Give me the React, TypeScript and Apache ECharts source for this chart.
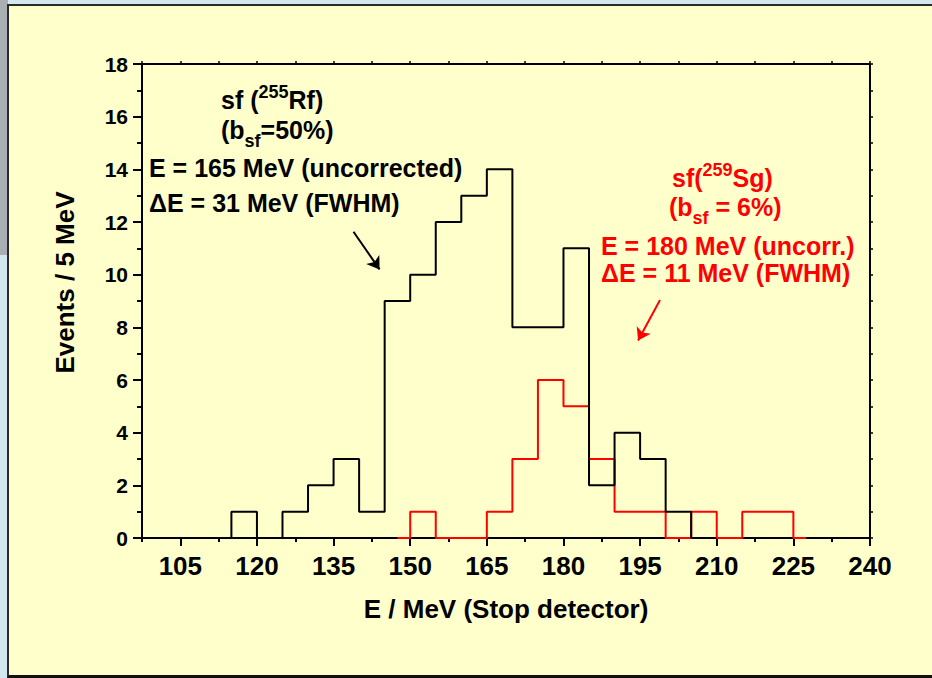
import React, { useEffect, useRef } from 'react';
import * as echarts from 'echarts';

// Histogram bin centres (MeV) and counts per 5 MeV bin
const rfBinCenters = [112.5, 117.5, 122.5, 127.5, 132.5, 137.5, 142.5, 147.5, 152.5, 157.5, 162.5, 167.5, 172.5, 177.5, 182.5, 187.5, 192.5, 197.5, 202.5, 207.5];
const rfCounts = [0, 1, 0, 1, 2, 3, 1, 9, 10, 12, 13, 14, 8, 8, 11, 2, 4, 3, 1, 0];

const sgBinCenters = [147.5, 152.5, 157.5, 162.5, 167.5, 172.5, 177.5, 182.5, 187.5, 192.5, 197.5, 202.5, 207.5, 212.5, 217.5, 222.5, 227.5];
const sgCounts = [0, 1, 0, 0, 1, 3, 6, 5, 3, 1, 1, 0, 1, 0, 1, 1, 0];

// Axis ranges and labelled ticks
const xMin = 97.5;
const xMax = 240;
const xLabelTicks = [105, 120, 135, 150, 165, 180, 195, 210, 225, 240];
const yMin = 0;
const yMax = 18;

// Arrow annotations in data coordinates: [start, end]
const rfArrow = [[138.9, 11.63], [144.0, 10.2]];
const sgArrow = [[198.9, 9.04], [194.6, 7.5]];

const FONT = '"Liberation Sans", Arial, Helvetica, sans-serif';

function annotation(x: number, y: number, text: string, color: string) {
  return {
    type: 'text',
    x,
    y,
    z: 100,
    silent: true,
    style: {
      text,
      fill: color,
      align: 'left',
      verticalAlign: 'middle',
      fontFamily: FONT,
      fontWeight: 'bold',
      fontSize: 25,
      lineHeight: 34,
      rich: {
        m: { fontFamily: FONT, fontWeight: 'bold', fontSize: 25, lineHeight: 34, fill: color },
        sup: { fontFamily: FONT, fontWeight: 'bold', fontSize: 18, lineHeight: 18, height: 18, verticalAlign: 'top', fill: color },
        sub: { fontFamily: FONT, fontWeight: 'bold', fontSize: 18, lineHeight: 12, height: 12, verticalAlign: 'bottom', fill: color },
      },
    },
  };
}

const toPairs = (xs: number[], ys: number[]) => xs.map((x, i) => [x, ys[i]]);

const black = '#000000';
const red = '#ff0000';

const option: any = {
  animation: false,
  backgroundColor: 'transparent',
  grid: { left: 142, right: 62, top: 64, bottom: 140, containLabel: false, outerBoundsMode: 'none' },
  xAxis: [
    {
      type: 'value',
      position: 'bottom',
      min: xMin,
      max: xMax,
      interval: 7.5,
      name: 'E / MeV (Stop detector)',
      nameLocation: 'middle',
      nameGap: 58,
      nameTextStyle: { fontFamily: FONT, fontWeight: 'bold', fontSize: 26, color: black },
      axisLine: { show: true, onZero: false, lineStyle: { color: black, width: 2 } },
      axisTick: { show: true, inside: false, length: 4, lineStyle: { color: black, width: 2 } },
      axisLabel: {
        show: true,
        margin: 15,
        color: black,
        fontFamily: FONT,
        fontWeight: 'bold',
        fontSize: 26,
        showMinLabel: true,
        showMaxLabel: true,
        hideOverlap: false,
        formatter: (v: number) => (xLabelTicks.some((t) => Math.abs(t - v) < 1e-6) ? String(Math.round(v)) : ''),
      },
      splitLine: { show: false },
    },
    {
      type: 'value',
      position: 'bottom',
      min: xMin,
      max: xMax,
      axisLine: { show: false, onZero: false },
      axisTick: { show: true, inside: false, length: 8, customValues: xLabelTicks, lineStyle: { color: black, width: 2 } },
      axisLabel: { show: false },
      splitLine: { show: false },
    },
    {
      type: 'value',
      position: 'top',
      min: xMin,
      max: xMax,
      interval: 7.5,
      axisLine: { show: true, onZero: false, lineStyle: { color: black, width: 2 } },
      axisTick: { show: true, inside: false, length: 3, lineStyle: { color: black, width: 1.5 } },
      axisLabel: { show: false },
      splitLine: { show: false },
    },
  ],
  yAxis: [
    {
      type: 'value',
      position: 'left',
      min: yMin,
      max: yMax,
      interval: 2,
      name: 'Events / 5 MeV',
      nameLocation: 'middle',
      nameRotate: 90,
      nameGap: 64,
      nameTextStyle: { fontFamily: FONT, fontWeight: 'bold', fontSize: 26, color: black, padding: [0, 0, 0, 37] },
      axisLine: { show: true, onZero: false, lineStyle: { color: black, width: 2 } },
      axisTick: { show: true, inside: false, length: 9, lineStyle: { color: black, width: 2 } },
      minorTick: { show: true, splitNumber: 2, length: 5, lineStyle: { color: black, width: 2 } },
      axisLabel: { show: true, margin: 14, color: black, fontFamily: FONT, fontWeight: 'bold', fontSize: 21 },
      splitLine: { show: false },
      minorSplitLine: { show: false },
    },
    {
      type: 'value',
      position: 'right',
      min: yMin,
      max: yMax,
      interval: 1,
      axisLine: { show: true, onZero: false, lineStyle: { color: black, width: 2 } },
      axisTick: { show: true, inside: false, length: 3, lineStyle: { color: black, width: 1.5 } },
      axisLabel: { show: false },
      splitLine: { show: false },
    },
  ],
  series: [
    {
      name: 'sf(259Sg)',
      type: 'line',
      step: 'middle',
      xAxisIndex: 0,
      yAxisIndex: 0,
      data: toPairs(sgBinCenters, sgCounts),
      symbol: 'none',
      showSymbol: false,
      z: 3,
      lineStyle: { color: red, width: 2 },
      itemStyle: { color: red },
      markLine: {
        silent: true,
        symbol: ['none', 'arrow'],
        symbolSize: 12,
        label: { show: false },
        lineStyle: { color: red, width: 2, type: 'solid' },
        emphasis: { disabled: true },
        data: [[{ coord: sgArrow[0] }, { coord: sgArrow[1] }]],
      },
    },
    {
      name: 'sf(255Rf)',
      type: 'line',
      step: 'middle',
      xAxisIndex: 0,
      yAxisIndex: 0,
      data: toPairs(rfBinCenters, rfCounts),
      symbol: 'none',
      showSymbol: false,
      z: 4,
      lineStyle: { color: black, width: 2 },
      itemStyle: { color: black },
      markLine: {
        silent: true,
        symbol: ['none', 'arrow'],
        symbolSize: 12,
        label: { show: false },
        lineStyle: { color: black, width: 2, type: 'solid' },
        emphasis: { disabled: true },
        data: [[{ coord: rfArrow[0] }, { coord: rfArrow[1] }]],
      },
    },
  ],
  graphic: [
    annotation(221, 100, '{m|sf (}{sup|255}{m|Rf)}', black),
    annotation(221, 130, '{m|(b}{sub|sf}{m|=50%)}', black),
    annotation(149, 168, 'E = 165 MeV (uncorrected)', black),
    annotation(149, 203, '\u0394E = 31 MeV (FWHM)', black),
    annotation(672, 178, '{m|sf(}{sup|259}{m|Sg)}', red),
    annotation(669, 207, '{m|(b}{sub|sf}{m| = 6%)}', red),
    annotation(601, 246, 'E = 180 MeV (uncorr.)', red),
    annotation(601, 273, '\u0394E = 11 MeV (FWHM)', red),
  ],
};

export default function App() {
  const ref = useRef<HTMLDivElement>(null);

  useEffect(() => {
    if (!ref.current) return;
    const chart = echarts.init(ref.current, null, { renderer: 'svg' });
    chart.setOption(option);
    return () => chart.dispose();
  }, []);

  return (
    <div style={{ position: 'fixed', left: 0, top: 0, width: 932, height: 678, overflow: 'hidden', background: '#d3e7ee' }}>
      <div style={{ position: 'absolute', left: 0, top: 0, width: 8, height: 255, background: '#a9afb2' }} />
      <div
        style={{
          position: 'absolute',
          left: 7,
          top: 4,
          width: 940,
          height: 674,
          boxSizing: 'border-box',
          background: '#ffffcc',
          borderLeft: '2px solid #2b2b2b',
          borderTop: '2px solid #2b2b2b',
          borderBottom: '3px solid #111111',
        }}
      />
      <div ref={ref} style={{ position: 'absolute', left: 0, top: 0, width: 932, height: 678 }} />
    </div>
  );
}
